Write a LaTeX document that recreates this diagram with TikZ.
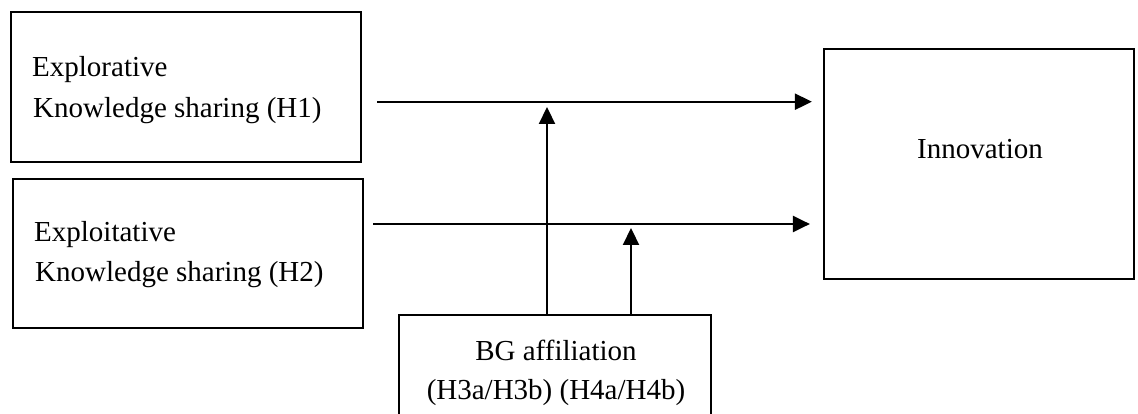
\documentclass[tikz,border=0pt]{standalone}
\usepackage{fontspec}
\setmainfont{Liberation Serif}
\usetikzlibrary{arrows.meta}
\begin{document}
\begin{tikzpicture}[x=1pt,y=-1pt,
  box/.style={draw,line width=2.2pt,inner sep=0pt},
  lbl/.style={inner sep=0pt,font=\fontsize{29}{41}\selectfont},
  arr/.style={line width=2.2pt,-{Triangle[length=17pt,width=16pt]}}]
\clip (0,0) rectangle (1138,414);
% boxes
\node[box,minimum width=350pt,minimum height=150pt] (b1) at (186,87) {};
\node[box,minimum width=350pt,minimum height=149pt] (b2) at (188,253.5) {};
\node[box,minimum width=310pt,minimum height=230pt] (inno) at (979,164) {};
\node[box,minimum width=312pt,minimum height=125pt] (bg) at (555,377.5) {};
% labels
\node[lbl,anchor=base west] (t1a) at (32,77) {Explorative};
\node[lbl,anchor=base west] (t1b) at (33,118) {Knowledge sharing (H1)};
\node[lbl,anchor=base west] (t2a) at (34,242) {Exploitative};
\node[lbl,anchor=base west] (t2b) at (35,281) {Knowledge sharing (H2)};
\node[lbl,anchor=base] (ti) at (980,159) {Innovation};
\node[lbl,anchor=base] (tg1) at (556,360) {BG affiliation};
\node[lbl,anchor=base] (tg2) at (556,399) {(H3a/H3b) (H4a/H4b)};
% connectors
\coordinate (s1) at (377,101.7);
\coordinate (s2) at (373,224);
\coordinate (v1) at (547,107);
\coordinate (v2) at (631,228);
\draw[arr,shorten >=11pt] (s1) -- (s1 -| inno.west);
\draw[arr,shorten >=13pt] (s2) -- (s2 -| inno.west);
\draw[arr] (v1 |- bg.north) -- (v1);
\draw[arr] (v2 |- bg.north) -- (v2);
\end{tikzpicture}
\end{document}
